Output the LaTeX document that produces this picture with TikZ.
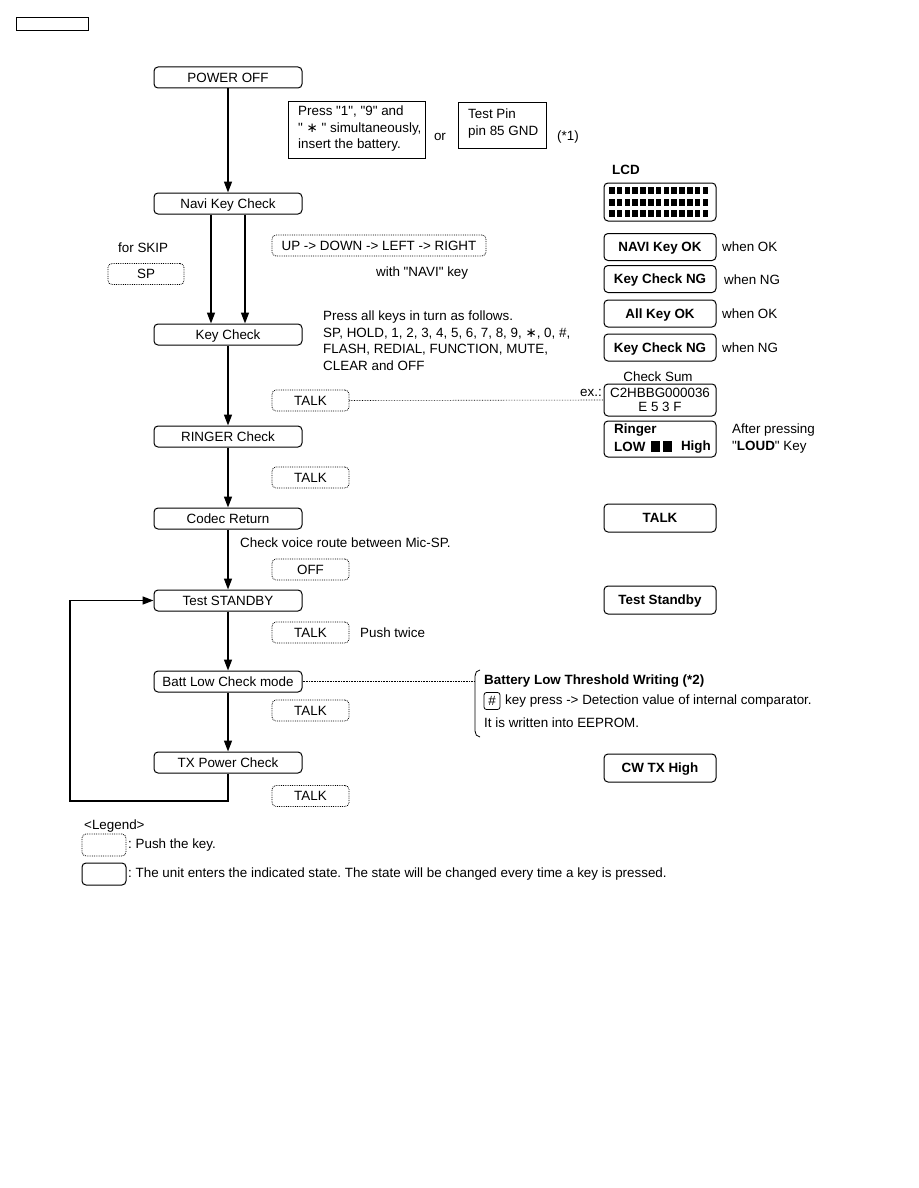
\documentclass[tikz,border=0pt]{standalone}
\usepackage{fontspec}
\setmainfont{Liberation Sans}[Ligatures=TeXOff]
\newfontfamily\symfont{DejaVu Sans}
\newcommand{\keystar}{{\symfont ∗}}
\usetikzlibrary{arrows.meta}

\begin{document}
\frenchspacing
\begin{tikzpicture}[x=1pt,y=-1pt,
  font=\fontsize{13.4}{16.5}\selectfont,
  state/.style={draw,line width=1pt,rounded corners=4pt,minimum width=148pt,minimum height=21pt,inner sep=0pt,text height=9.6pt,text depth=0pt},
  keybox/.style={draw,densely dotted,line width=0.8pt,rounded corners=4pt,minimum width=77pt,minimum height=21pt,inner sep=0pt,text height=9.6pt,text depth=0pt},
  lcd/.style={draw,line width=1pt,rounded corners=4pt,minimum width=112pt,minimum height=27pt,inner sep=0pt,font=\fontsize{13.4}{16.5}\selectfont\bfseries},
  lcdtext/.style={lcd,text height=9.6pt,text depth=0pt},
  flow/.style={-{Triangle[length=11pt,width=8pt]},line width=1.5pt},
  note/.style={anchor=west,inner sep=0pt},
  link/.style={densely dotted,line width=0.6pt}]
  \useasboundingbox (0,0) rectangle (918,1188);
  % Page tag
  \node[draw,line width=0.8pt,minimum width=72pt,minimum height=13pt,inner sep=0pt] (tag) at (52,23.5) {};
  % Flow states
  \node[state] (poweroff) at (228,77.5) {POWER OFF};
  \node[state] (navi) at (228,203.5) {Navi Key Check};
  \node[state] (keycheck) at (228,334.5) {Key Check};
  \node[state] (ringer) at (228,436.5) {RINGER Check};
  \node[state] (codec) at (228,518.5) {Codec Return};
  \node[state] (standby) at (228,600.5) {Test STANDBY};
  \node[state] (battlow) at (228,681.5) {Batt Low Check mode};
  \node[state] (txpower) at (228,762.5) {TX Power Check};
  % Flow arrows
  \draw[flow] (poweroff) -- (navi);
  \draw[flow] ([xshift=-17pt]navi.south) -- ([xshift=-17pt]keycheck.north);
  \draw[flow] ([xshift=17pt]navi.south) -- ([xshift=17pt]keycheck.north);
  \draw[flow] (keycheck) -- (ringer);
  \draw[flow] (ringer) -- (codec);
  \draw[flow] (codec) -- (standby);
  \draw[flow] (standby) -- (battlow);
  \draw[flow] (battlow) -- (txpower);
  \coordinate (loopcorner) at (70,801);
  \draw[flow] (txpower.south) |- (loopcorner) |- (standby.west);
  % Entry condition
  \node[draw,line width=0.8pt,inner sep=0pt,minimum width=137pt,minimum height=57pt] (pressbox) at (356.5,129.5) {};
  \node[note,anchor=north west,align=left] at (298,106) {Press "1", "9" and\\" \keystar\ " simultaneously,\\insert the battery.};
  \node at (440,137) {or};
  \node[draw,line width=0.8pt,inner sep=0pt,minimum width=88pt,minimum height=46pt] (pinbox) at (502,125) {};
  \node[note,anchor=north west,align=left] at (468,109) {Test Pin\\pin 85 GND};
  \node[note] at (557,137) {(*1)};
  % Keys to push
  \node[note] at (118,248) {for SKIP};
  \node[keybox,minimum width=76pt] (sp) at (146,274) {SP};
  \node[keybox,minimum width=214pt] (navikeys) at (379,245.5) {UP -> DOWN -> LEFT -> RIGHT};
  \node[note] at (376,273) {with "NAVI" key};
  \node[note,anchor=north west,align=left] at (323,311) {Press all keys in turn as follows.\\SP, HOLD, 1, 2, 3, 4, 5, 6, 7, 8, 9, \keystar, 0, \#,\\FLASH, REDIAL, FUNCTION, MUTE,\\CLEAR and OFF};
  \node[keybox] (talka) at (310.5,400.5) {TALK};
  \node[keybox] (talkb) at (310.5,477.5) {TALK};
  \node[note] at (240,543) {Check voice route between Mic-SP.};
  \node[keybox] (off) at (310.5,569.5) {OFF};
  \node[keybox] (talkc) at (310.5,632.5) {TALK};
  \node[note] at (360,633) {Push twice};
  \node[keybox] (talkd) at (310.5,710.5) {TALK};
  \node[keybox] (talke) at (310.5,796) {TALK};
  % LCD
  \node[note,font=\fontsize{13.4}{16.5}\selectfont\bfseries] at (612,170) {LCD};
  \node[lcd,minimum height=38pt] (screen) at (660,202) {};
  \foreach \r in {0,1,2}
    \foreach \c in {0,...,12}
      \fill (609+\c*7.8,187+\r*11.5) rectangle ++(5.6,7);
  \node[lcdtext] (naviok) at (660,247) {NAVI Key OK};
  \node[note] at (722,247) {when OK};
  \node[lcdtext] (naving) at (660,279) {Key Check NG};
  \node[note] at (724,280) {when NG};
  \node[lcdtext] (allok) at (660,313.5) {All Key OK};
  \node[note] at (722,314) {when OK};
  \node[lcdtext] (allng) at (660,347.5) {Key Check NG};
  \node[note] at (722,348) {when NG};
  \node at (658,377) {Check Sum};
  \node[anchor=east,inner sep=0pt] at (602,393) {ex.:};
  \node[lcd,minimum height=32pt,align=center,font=\fontsize{13.4}{14}\selectfont] (checksum) at (660,400) {C2HBBG000036\\E 5 3 F};
  \draw[link] (talka.east) -- (checksum.west);
  \node[lcd,minimum height=36pt] (ringerlcd) at (660,439) {};
  \node[note,font=\fontsize{13.4}{16.5}\selectfont\bfseries] at (614,430) {Ringer};
  \node[note,font=\fontsize{13.4}{16.5}\selectfont\bfseries] at (614,447) {LOW};
  \fill (651,441) rectangle ++(9,11);
  \fill (663,441) rectangle ++(9,11);
  \node[anchor=east,inner sep=0pt,font=\fontsize{13.4}{16.5}\selectfont\bfseries] at (711,447) {High};
  \node[note] at (732,430) {After pressing};
  \node[note] at (732,447) {"\textbf{LOUD}" Key};
  \node[lcdtext,minimum height=28pt] (talklcd) at (660,518) {TALK};
  \node[lcdtext,minimum height=28pt] (standbylcd) at (660,600) {Test Standby};
  \node[lcdtext,minimum height=28pt] (txlcd) at (660,768) {CW TX High};
  % Battery low note
  \coordinate (brace) at (475,681.5);
  \draw[link] (battlow.east) -- (brace);
  \draw[line width=0.8pt] (480,670) to[out=180,in=90] (475,676) -- (475,731) to[out=-90,in=180] (480,737);
  \node[note,font=\fontsize{13.4}{16.5}\selectfont\bfseries] at (484,681) {Battery Low Threshold Writing (*2)};
  \node[draw,line width=0.8pt,rounded corners=2.5pt,minimum width=16pt,minimum height=17pt,inner sep=0pt] (hashkey) at (492,701) {\#};
  \node[note] at (505,701) {key press -> Detection value of internal comparator.};
  \node[note] at (484,723) {It is written into EEPROM.};
  % Legend
  \node[note] at (84,826) {<Legend>};
  \node[keybox,minimum width=44pt,minimum height=22pt] (legkey) at (104,845) {};
  \node[note] at (128,845) {: Push the key.};
  \node[state,minimum width=44pt,minimum height=22pt] (legstate) at (104,874) {};
  \node[note] at (128,874) {: The unit enters the indicated state. The state will be changed every time a key is pressed.};
\end{tikzpicture}
\end{document}
